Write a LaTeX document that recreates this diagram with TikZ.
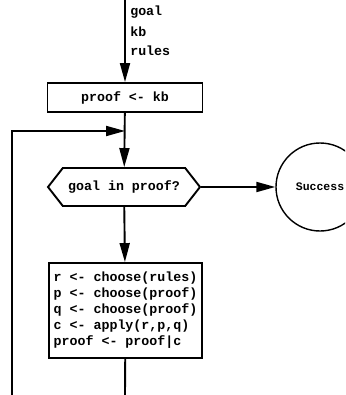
\documentclass[tikz,border=0pt]{standalone}
\usepackage{fontspec}
\setmonofont{Liberation Mono}
\usetikzlibrary{shapes.symbols,arrows.meta}

\begin{document}
\begin{tikzpicture}[x=1pt,y=-1pt,line width=1.9pt,
    >={Triangle[length=19pt,width=10pt]},
    every node/.style={font=\ttfamily\bfseries\fontsize{13.3}{16}\selectfont},
    stepbox/.style={draw,minimum width=155pt,minimum height=29pt,inner sep=0pt},
    testbox/.style={draw,signal,signal to=west and east,signal pointer angle=104,
        minimum width=152pt,minimum height=38pt,inner sep=0pt},
    stopnode/.style={draw,circle,minimum size=88pt,inner sep=0pt,line width=1.4pt,
        font=\ttfamily\bfseries\fontsize{11.5}{14}\selectfont}]
    \useasboundingbox (0,0) rectangle (345,395);
    \clip (0,0) rectangle (345,395);
    % inputs
    \coordinate (input) at (125,0);
    \node[right] (goal) at (126,12) {goal};
    \node[right] (kb) at (126,32) {kb};
    \node[right] (rules) at (126,51) {rules};
    % steps
    \node[stepbox] (init) at (125,97.5) {proof <- kb};
    \node[testbox] (test) at (124,187) {goal in proof?};
    \node[stopnode] (success) at (320,187) {Success};
    \node[stepbox,minimum width=153pt,minimum height=95pt,align=left] (body) at (125.5,310.5)
        {r <- choose(rules)\\p <- choose(proof)\\q <- choose(proof)\\c <- apply(r,p,q)\\proof <- proof|c};
    \coordinate (join) at (125,131);
    \coordinate (loopin) at (12,395);
    \coordinate (out) at (125,395);
    \draw[->] (input) -- (init);
    \draw[->] (init) -- (test);
    \draw[->] (test) -- (success);
    \draw[->] (test) -- (body);
    \draw (body) -- (out);
    % back to the test
    \draw[->] (loopin) |- (join);
\end{tikzpicture}
\end{document}
